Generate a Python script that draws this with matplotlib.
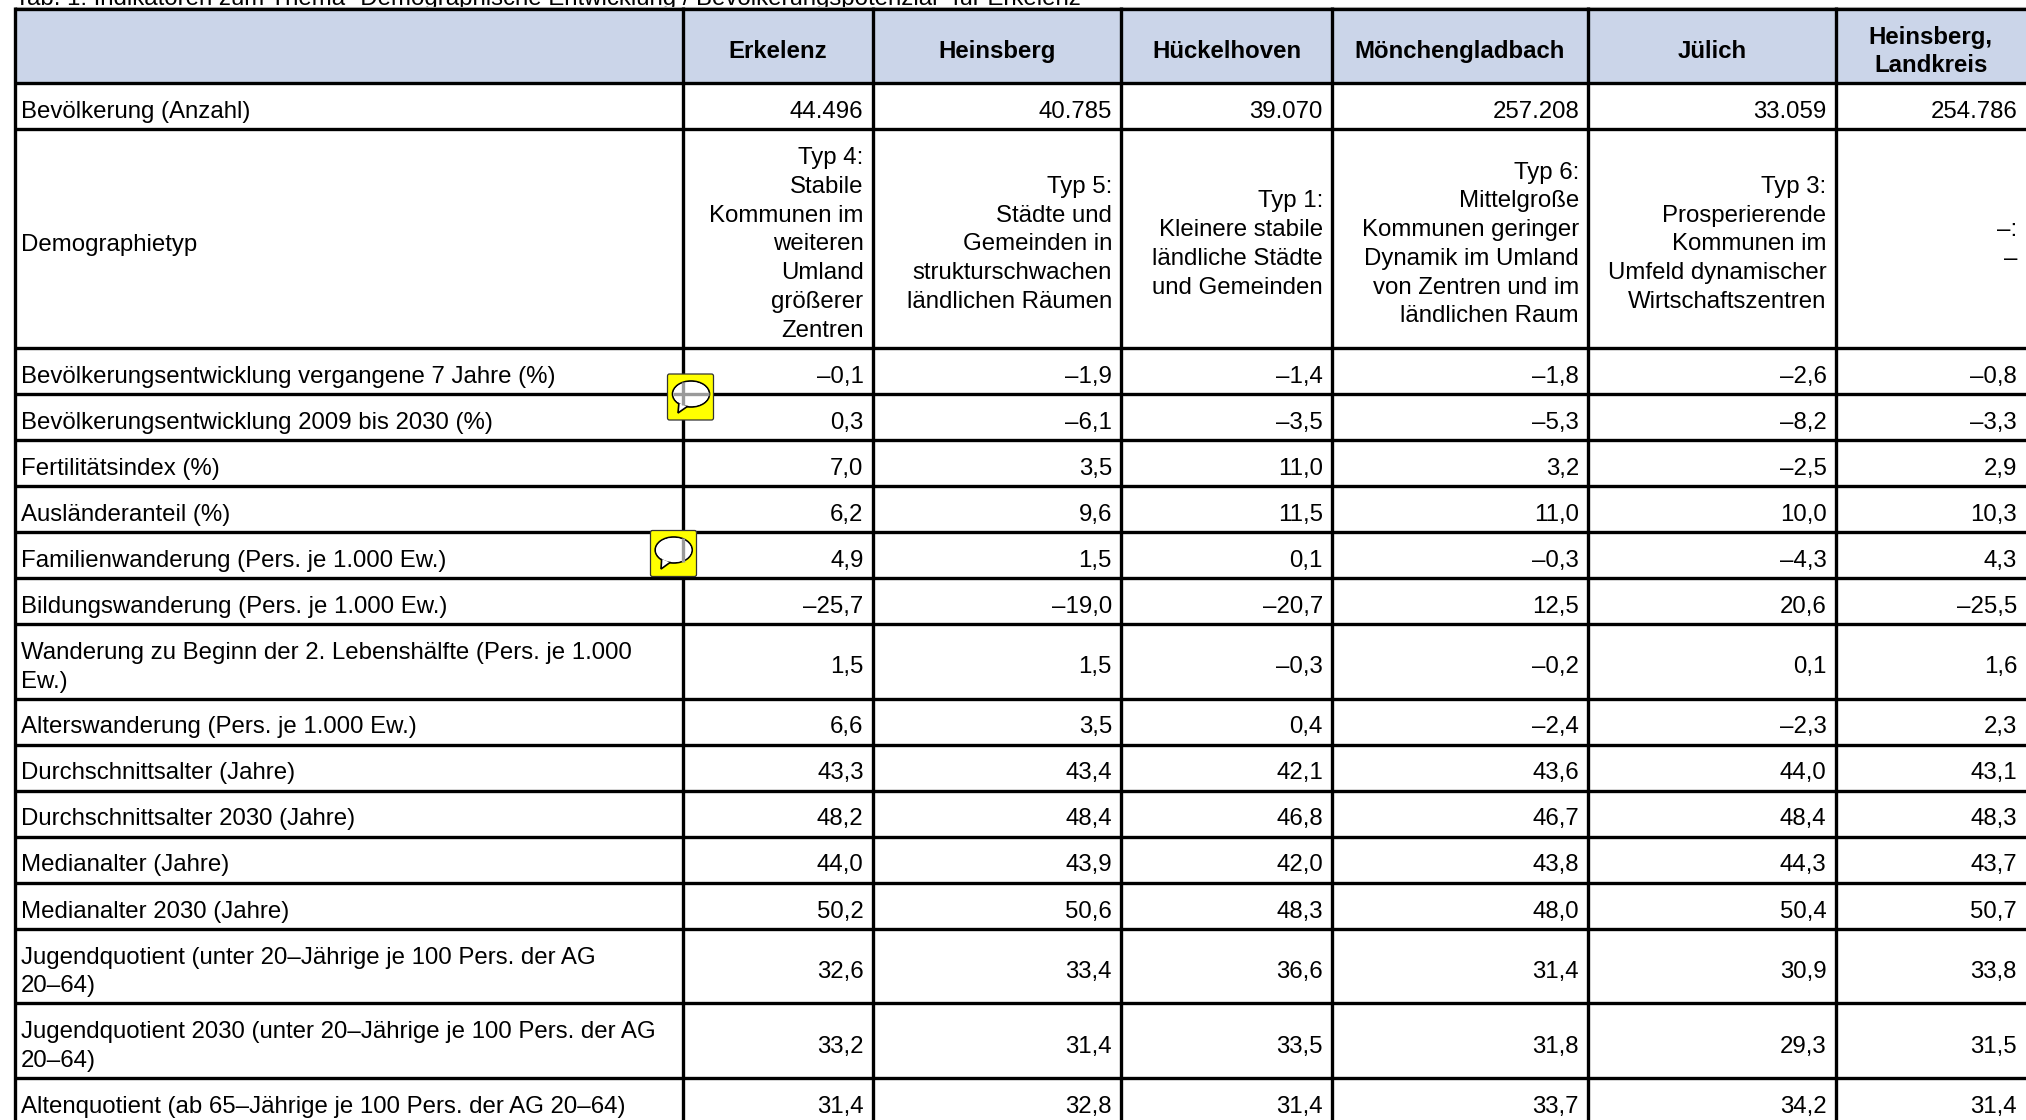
# -*- coding: utf-8 -*-
import matplotlib
matplotlib.use("Agg")
import matplotlib.pyplot as plt
from matplotlib.patches import Ellipse, FancyBboxPatch, Polygon, Rectangle

plt.rcParams['font.family'] = ['Liberation Sans', 'DejaVu Sans']

title = 'Tab. 1: Indikatoren zum Thema "Demographische Entwicklung / Bevölkerungspotenzial" für Erkelenz'

columns = ['Erkelenz', 'Heinsberg', 'Hückelhoven', 'Mönchengladbach', 'Jülich', 'Heinsberg,\nLandkreis']

row_labels = [
    'Bevölkerung (Anzahl)',
    'Demographietyp',
    'Bevölkerungsentwicklung vergangene 7 Jahre (%)',
    'Bevölkerungsentwicklung 2009 bis 2030 (%)',
    'Fertilitätsindex (%)',
    'Ausländeranteil (%)',
    'Familienwanderung (Pers. je 1.000 Ew.)',
    'Bildungswanderung (Pers. je 1.000 Ew.)',
    'Wanderung zu Beginn der 2. Lebenshälfte (Pers. je 1.000\nEw.)',
    'Alterswanderung (Pers. je 1.000 Ew.)',
    'Durchschnittsalter (Jahre)',
    'Durchschnittsalter 2030 (Jahre)',
    'Medianalter (Jahre)',
    'Medianalter 2030 (Jahre)',
    'Jugendquotient (unter 20–Jährige je 100 Pers. der AG\n20–64)',
    'Jugendquotient 2030 (unter 20–Jährige je 100 Pers. der AG\n20–64)',
    'Altenquotient (ab 65–Jährige je 100 Pers. der AG 20–64)',
]

erkelenz = ['44.496', 'Typ 4:\nStabile\nKommunen im\nweiteren\nUmland\ngrößerer\nZentren',
            '–0,1', '0,3', '7,0', '6,2', '4,9', '–25,7', '1,5', '6,6',
            '43,3', '48,2', '44,0', '50,2', '32,6', '33,2', '31,4']
heinsberg = ['40.785', 'Typ 5:\nStädte und\nGemeinden in\nstrukturschwachen\nländlichen Räumen',
             '–1,9', '–6,1', '3,5', '9,6', '1,5', '–19,0', '1,5', '3,5',
             '43,4', '48,4', '43,9', '50,6', '33,4', '31,4', '32,8']
hueckelhoven = ['39.070', 'Typ 1:\nKleinere stabile\nländliche Städte\nund Gemeinden',
                '–1,4', '–3,5', '11,0', '11,5', '0,1', '–20,7', '–0,3', '0,4',
                '42,1', '46,8', '42,0', '48,3', '36,6', '33,5', '31,4']
moenchengladbach = ['257.208', 'Typ 6:\nMittelgroße\nKommunen geringer\nDynamik im Umland\nvon Zentren und im\nländlichen Raum',
                    '–1,8', '–5,3', '3,2', '11,0', '–0,3', '12,5', '–0,2', '–2,4',
                    '43,6', '46,7', '43,8', '48,0', '31,4', '31,8', '33,7']
juelich = ['33.059', 'Typ 3:\nProsperierende\nKommunen im\nUmfeld dynamischer\nWirtschaftszentren',
           '–2,6', '–8,2', '–2,5', '10,0', '–4,3', '20,6', '0,1', '–2,3',
           '44,0', '48,4', '44,3', '50,4', '30,9', '29,3', '34,2']
landkreis = ['254.786', '–:\n–',
             '–0,8', '–3,3', '2,9', '10,3', '4,3', '–25,5', '1,6', '2,3',
             '43,1', '48,3', '43,7', '50,7', '33,8', '31,5', '31,4']
table_columns = [erkelenz, heinsberg, hueckelhoven, moenchengladbach, juelich, landkreis]

# Layout in Pixeln des Originals
col_edges = [14.7, 682.5, 872.5, 1121, 1332, 1588, 1835.5, 2026]
row_edges = [9, 83, 129, 348, 394, 440, 486, 532, 578, 624, 698.5, 744.5,
             790.5, 836.5, 882.5, 929, 1003, 1078, 1124]
FONT_SIZE = 17.27
LINE_H = 28.8
BASE_SHIFT = 12
LINE_W = 2.4

fig = plt.figure(figsize=(20.26, 11.2), dpi=100, facecolor='white')
ax = fig.add_axes([0, 0, 1, 1])
ax.set_xlim(0, 2026)
ax.set_ylim(1120, 0)
ax.axis('off')


def cell_text(x, y_mid, text, ha, weight='normal'):
    lines = text.split('\n')
    for i, line in enumerate(lines):
        y = y_mid + BASE_SHIFT + (i - (len(lines) - 1) / 2) * LINE_H
        ax.text(x, y, line, ha=ha, va='baseline', fontsize=FONT_SIZE,
                fontweight=weight, color='#000000', zorder=3)


def comment_icon(x0, y0, cx, cy, tail):
    """gelbes Kommentar-Symbol, Tabellenlinien scheinen grau durch"""
    ax.add_patch(FancyBboxPatch((x0 + 1.5, y0 + 1.5), 43, 43,
                                boxstyle='round,pad=1.5,rounding_size=2',
                                fc='#FFFF00', ec='#333333', lw=0.9, zorder=5))
    ax.add_patch(Ellipse((cx, cy), 37, 26, fc='white', ec='black', lw=1.2, zorder=6))
    ax.add_patch(Polygon([(cx - 12, cy + 8), tail, (cx - 3, cy + 12)], closed=True,
                         fc='white', ec='black', lw=1.2, zorder=6))
    ax.add_patch(Ellipse((cx, cy), 35, 24, fc='white', ec='none', zorder=6.5))


# Kopfzeile
ax.add_patch(Rectangle((col_edges[0], row_edges[0]), col_edges[-1] - col_edges[0],
                       row_edges[1] - row_edges[0], fc='#CBD5E9', ec='none', zorder=1))
ax.text(15, 5.5, title, ha='left', va='baseline', fontsize=FONT_SIZE, color='black', zorder=1.5)
ax.hlines(7.3, col_edges[0], 2026, color='#c4c4c4', lw=0.8, zorder=1.6)

# Gitter
ax.hlines(row_edges, col_edges[0], 2026, color='black', lw=LINE_W, zorder=2)
ax.vlines(col_edges[:-1], 7, 1120, color='black', lw=LINE_W, zorder=2)

for j, name in enumerate(columns):
    cell_text((col_edges[j + 1] + col_edges[j + 2]) / 2, (row_edges[0] + row_edges[1]) / 2,
              name, 'center', weight='bold')

for i, label in enumerate(row_labels):
    y_mid = (row_edges[i + 1] + row_edges[i + 2]) / 2
    cell_text(21, y_mid, label, 'left')
    for j, values in enumerate(table_columns):
        cell_text(col_edges[j + 2] - 9, y_mid, values[i], 'right')

# Kommentar-Symbole
comment_icon(667.5, 374, 691, 394, (678, 413))
comment_icon(650.5, 530.5, 673.7, 550, (661, 569))
for (xa, ya), (xb, yb) in [((682.5, 382), (682.5, 405)), ((673, 394), (709, 394)),
                           ((682.5, 538), (682.5, 562))]:
    ax.plot([xa, xb], [ya, yb], color='#9a9a9a', lw=2.4, solid_capstyle='butt', zorder=7)

fig.savefig('out.png', dpi=100, facecolor='white')
